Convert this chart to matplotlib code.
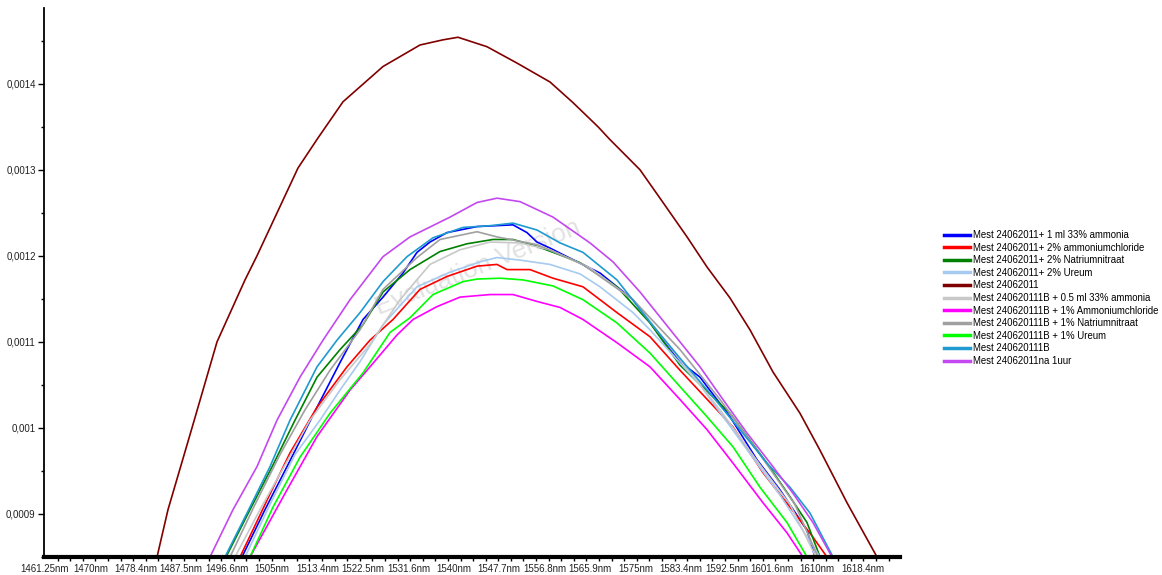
import numpy as np
import matplotlib
matplotlib.use("Agg")
import matplotlib.pyplot as plt
from matplotlib.lines import Line2D

plt.rcParams['font.family'] = ['Liberation Sans', 'DejaVu Sans']

# ---------------- data (wavelength nm, value) ----------------
x_tick_labels = ["1461.25nm", "1470nm", "1478.4nm", "1487.5nm", "1496.6nm", "1505nm",
                 "1513.4nm", "1522.5nm", "1531.6nm", "1540nm", "1547.7nm", "1556.8nm",
                 "1565.9nm", "1575nm", "1583.4nm", "1592.5nm", "1601.6nm", "1610nm", "1618.4nm"]
y_ticks = [0.0009, 0.0010, 0.0011, 0.0012, 0.0013, 0.0014]
y_tick_labels = ["0,0009", "0,001", "0,0011", "0,0012", "0,0013", "0,0014"]

series_labels = [
    "Mest 24062011+ 1 ml 33% ammonia",
    "Mest 24062011+ 2% ammoniumchloride",
    "Mest 24062011+ 2% Natriumnitraat",
    "Mest 24062011+ 2% Ureum",
    "Mest 24062011",
    "Mest 240620111B + 0.5 ml 33% ammonia",
    "Mest 240620111B + 1% Ammoniumchloride",
    "Mest 240620111B + 1% Natriumnitraat",
    "Mest 240620111B + 1% Ureum",
    "Mest 240620111B",
    "Mest 24062011na 1uur",
]
series_colors = ["#0000FF", "#FF0000", "#008000", "#A6CAF0", "#800000", "#C8C8C8",
                 "#FF00FF", "#A0A0A0", "#00FF00", "#1E9AD0", "#C448F0"]

wl_blue = [1499.11, 1503.53, 1507.76, 1513.53, 1517.95, 1522.37, 1526.21, 1530.05, 1532.74,
           1535.24, 1538.51, 1544.28, 1551.19, 1553.88, 1555.81, 1558.31, 1561.57, 1567.92,
           1574.26, 1583.29, 1587.13, 1592.90, 1598.09, 1602.51, 1607.70, 1609.24]
val_blue = [0.000850, 0.000905, 0.000955, 0.001024, 0.001076, 0.001126, 0.001152, 0.001180,
            0.001204, 0.001216, 0.001227, 0.001234, 0.001236, 0.001227, 0.001216, 0.001209,
            0.001199, 0.001180, 0.001149, 0.001077, 0.001059, 0.001013, 0.000963, 0.000928,
            0.000881, 0.000850]

wl_red = [1498.73, 1503.92, 1508.34, 1513.53, 1519.29, 1523.71, 1528.13, 1533.32, 1538.51,
          1544.28, 1548.12, 1550.04, 1554.46, 1558.88, 1564.65, 1571.18, 1577.52, 1583.29,
          1593.48, 1599.24, 1604.43, 1608.85, 1611.54]
val_red = [0.000850, 0.000916, 0.000971, 0.001024, 0.001071, 0.001102, 0.001126, 0.001161,
           0.001176, 0.001188, 0.001190, 0.001184, 0.001184, 0.001174, 0.001164, 0.001134,
           0.001106, 0.001067, 0.001001, 0.000948, 0.000908, 0.000873, 0.000850]

wl_green = [1496.04, 1500.65, 1505.07, 1509.30, 1513.53, 1517.95, 1522.37, 1526.21, 1531.40,
            1537.17, 1542.35, 1547.35, 1551.19, 1555.81, 1560.23, 1564.07, 1571.18, 1577.52,
            1583.29, 1592.90, 1600.01, 1604.43, 1607.70, 1610.20]
val_green = [0.000850, 0.000905, 0.000957, 0.001009, 0.001059, 0.001091, 0.001120, 0.001158,
             0.001184, 0.001205, 0.001214, 0.001219, 0.001219, 0.001211, 0.001201, 0.001192,
             0.001164, 0.001122, 0.001073, 0.001017, 0.000959, 0.000920, 0.000890, 0.000850]

wl_lightblue = [1499.69, 1504.49, 1509.30, 1514.10, 1517.95, 1521.79, 1526.21, 1532.74,
                1539.09, 1544.85, 1548.12, 1552.54, 1558.31, 1564.07, 1567.92, 1574.26,
                1577.52, 1587.13, 1594.82, 1602.51, 1610.20]
val_lightblue = [0.000850, 0.000911, 0.000969, 0.001009, 0.001044, 0.001077, 0.001120,
                 0.001164, 0.001181, 0.001193, 0.001198, 0.001195, 0.001190, 0.001179,
                 0.001164, 0.001134, 0.001114, 0.001050, 0.000986, 0.000922, 0.000850]

wl_darkred = [1482.78, 1484.89, 1489.50, 1494.31, 1499.69, 1501.99, 1509.87, 1513.72, 1518.52,
              1526.21, 1533.32, 1537.74, 1540.62, 1546.20, 1551.96, 1558.31, 1562.73, 1567.53,
              1569.84, 1575.60, 1580.02, 1584.64, 1588.48, 1592.90, 1596.74, 1601.16, 1606.35,
              1610.20, 1615.39, 1621.15]
val_darkred = [0.000850, 0.000905, 0.001000, 0.001100, 0.001172, 0.001200, 0.001302, 0.001337,
               0.001379, 0.001420, 0.001445, 0.001451, 0.001454, 0.001443, 0.001424, 0.001402,
               0.001378, 0.001350, 0.001335, 0.001300, 0.001262, 0.001222, 0.001187, 0.001151,
               0.001114, 0.001065, 0.001017, 0.000974, 0.000913, 0.000850]

wl_lightgray = [1497.77, 1502.57, 1507.38, 1512.18, 1517.95, 1523.71, 1529.48, 1535.24, 1541.01,
                1546.78, 1552.54, 1558.31, 1565.99, 1574.26, 1583.29, 1590.98, 1598.67,
                1604.43, 1609.43]
val_lightgray = [0.000850, 0.000905, 0.000957, 0.001009, 0.001056, 0.001097, 0.001149,
                 0.001190, 0.001207, 0.001216, 0.001215, 0.001207, 0.001186, 0.001149,
                 0.001079, 0.001021, 0.000957, 0.000911, 0.000850]

wl_magenta = [1500.65, 1507.76, 1513.53, 1519.87, 1523.71, 1528.90, 1531.98, 1536.59, 1541.01,
              1546.78, 1551.19, 1555.81, 1560.23, 1564.65, 1571.18, 1577.52, 1583.29, 1588.48,
              1593.48, 1599.24, 1603.86, 1606.93]
val_magenta = [0.000850, 0.000928, 0.000990, 0.001044, 0.001071, 0.001108, 0.001126, 0.001141,
               0.001152, 0.001155, 0.001155, 0.001147, 0.001140, 0.001126, 0.001099, 0.001071,
               0.001033, 0.000998, 0.000959, 0.000913, 0.000878, 0.000850]

wl_gray = [1496.81, 1501.61, 1506.41, 1511.22, 1516.02, 1521.79, 1526.21, 1532.74, 1537.17,
           1544.28, 1548.12, 1555.81, 1564.65, 1574.26, 1583.29, 1590.98, 1598.67, 1605.39,
           1609.81]
val_gray = [0.000850, 0.000911, 0.000969, 0.001021, 0.001067, 0.001114, 0.001161, 0.001198,
            0.001219, 0.001228, 0.001222, 0.001213, 0.001190, 0.001149, 0.001091, 0.001033,
            0.000969, 0.000911, 0.000850]

wl_lime = [1500.65, 1505.07, 1510.26, 1516.02, 1522.37, 1527.56, 1531.40, 1535.82, 1541.59,
           1544.28, 1548.70, 1553.12, 1558.88, 1564.65, 1571.18, 1577.52, 1583.29, 1588.48,
           1593.48, 1598.67, 1603.86, 1607.70]
val_lime = [0.000850, 0.000908, 0.000966, 0.001017, 0.001064, 0.001111, 0.001128, 0.001155,
            0.001170, 0.001173, 0.001174, 0.001172, 0.001165, 0.001149, 0.001122, 0.001087,
            0.001048, 0.001013, 0.000978, 0.000931, 0.000890, 0.000850]

wl_teal = [1495.84, 1500.07, 1504.49, 1508.34, 1513.53, 1517.37, 1521.79, 1526.21, 1530.82,
           1535.82, 1541.59, 1546.78, 1551.19, 1555.81, 1560.23, 1564.65, 1571.18, 1577.52,
           1583.29, 1589.63, 1594.82, 1600.01, 1604.43, 1608.28, 1612.70]
val_teal = [0.000850, 0.000901, 0.000955, 0.001009, 0.001071, 0.001102, 0.001134, 0.001170,
            0.001199, 0.001221, 0.001233, 0.001235, 0.001238, 0.001230, 0.001215, 0.001204,
            0.001172, 0.001123, 0.001081, 0.001036, 0.000998, 0.000959, 0.000931, 0.000901,
            0.000850]

wl_purple = [1492.96, 1497.38, 1501.99, 1505.84, 1510.26, 1514.68, 1519.87, 1526.21, 1531.40,
             1539.09, 1544.28, 1548.12, 1552.54, 1558.88, 1565.99, 1570.41, 1575.60, 1583.29,
             1587.13, 1591.55, 1596.17, 1601.16, 1605.01, 1608.85, 1612.50]
val_purple = [0.000850, 0.000905, 0.000955, 0.001009, 0.001059, 0.001102, 0.001149, 0.001199,
              0.001222, 0.001245, 0.001262, 0.001267, 0.001263, 0.001245, 0.001215, 0.001193,
              0.001158, 0.001100, 0.001071, 0.001033, 0.000994, 0.000955, 0.000924, 0.000890,
              0.000850]

all_wl = [wl_blue, wl_red, wl_green, wl_lightblue, wl_darkred, wl_lightgray,
          wl_magenta, wl_gray, wl_lime, wl_teal, wl_purple]
all_val = [val_blue, val_red, val_green, val_lightblue, val_darkred, val_lightgray,
           val_magenta, val_gray, val_lime, val_teal, val_purple]

# ---------------- figure ----------------
fig = plt.figure(figsize=(11.62, 5.75), dpi=100)
ax = fig.add_axes([44 / 1162, 18 / 575, 856 / 1162, 549 / 575])

# watermark
ax.text(1544.5, 0.001186, "Evaluation Version", rotation=22, fontsize=19,
        color="#e2e2e2", ha="center", va="center", zorder=0.5)

draw_order = [4, 10, 6, 8, 1, 3, 5, 7, 2, 0, 9]
for i in draw_order:
    ax.plot(all_wl[i], all_val[i], color=series_colors[i], lw=1.2, zorder=2 + i * 0.01,
            solid_joinstyle="round")

x_first = float(x_tick_labels[0].replace("nm", ""))
x_last = float(x_tick_labels[-1].replace("nm", ""))
xt = np.linspace(x_first, x_last, len(x_tick_labels))
ax.set_xticks(xt)
ax.set_xticklabels(x_tick_labels, fontsize=7, color="#222222")
ax.set_xticks(np.arange(x_first, 1625.5, 2.42), minor=True)
ax.set_yticks(y_ticks)
ax.set_yticklabels(y_tick_labels, fontsize=7, color="#222222")
ax.set_yticks(np.arange(0.00085, 0.00149, 0.00005), minor=True)

ax.set_xlim(1461.06, 1625.57)
ax.set_ylim(0.00085, 0.001488)

for s in ["top", "right"]:
    ax.spines[s].set_visible(False)
ax.spines["left"].set_linewidth(1.3)
ax.spines["bottom"].set_linewidth(3.0)

ax.tick_params(axis="x", which="major", length=0, pad=5)
ax.tick_params(axis="x", which="minor", length=3, width=1, direction="out", color="black")
ax.tick_params(axis="y", which="major", length=4, width=1, pad=2)
ax.tick_params(axis="y", which="minor", length=2.5, width=1)

handles = [Line2D([0], [0], color=c, lw=2.5) for c in series_colors]
fig.legend(handles, series_labels, loc="upper left",
           bbox_to_anchor=(944 / 1162, 1 - 230 / 575), frameon=False, fontsize=6.9,
           handlelength=2.7, handletextpad=0.35, labelspacing=0.27, borderpad=0,
           borderaxespad=0)

fig.savefig("out.png", dpi=100)
